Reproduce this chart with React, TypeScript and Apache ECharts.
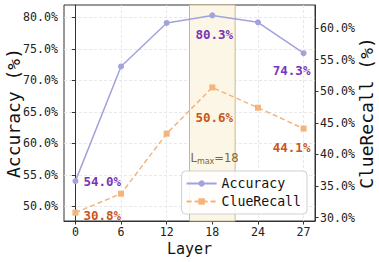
import React, { useEffect, useRef } from "react";
import * as echarts from "echarts";

const layers = ["0", "6", "12", "18", "24", "27"];
const accuracy = [54.0, 72.2, 79.1, 80.3, 79.2, 74.3];
const clueRecall = [30.8, 33.8, 43.3, 50.6, 47.4, 44.1];
const accTicks = [50, 55, 60, 65, 70, 75, 80];
const clueTicks = [30, 35, 40, 45, 50, 55, 60];
const lmaxIndex = 3;

const MONO = "'DejaVu Sans Mono', monospace";
const ACC_LINE = "#a2a2dc";
const CLUE_LINE = "#f4b47c";
const ACC_TXT = "#7a34b8";
const CLUE_TXT = "#c8561e";

const accLabels: Record<number, any> = {
  0: { position: "right", distance: 5, offset: [0, 0] },
  3: { position: "bottom", distance: 10, offset: [2, 0] },
  5: { position: "bottom", distance: 8, offset: [-12, 0] },
};
const clueLabels: Record<number, any> = {
  0: { position: "right", distance: 5, offset: [0, 3] },
  3: { position: "bottom", distance: 21, offset: [2, 0] },
  5: { position: "bottom", distance: 9, offset: [-12, 0] },
};

export default function App() {
  const ref = useRef<HTMLDivElement>(null);
  useEffect(() => {
    if (!ref.current) return;
    const chart = echarts.init(ref.current, null, { renderer: "svg" });
    const labelStyle = (color: string) => ({
      show: true,
      fontFamily: MONO,
      fontWeight: "bold",
      fontSize: 12.5,
      color,
      formatter: (p: any) => p.value[1].toFixed(1) + "%",
    });
    const accData = accuracy.map((v, i) => {
      const item: any = { value: [i, v] };
      if (accLabels[i]) item.label = { ...labelStyle(ACC_TXT), ...accLabels[i] };
      return item;
    });
    const clueData = clueRecall.map((v, i) => {
      const item: any = { value: [i, v] };
      if (clueLabels[i]) item.label = { ...labelStyle(CLUE_TXT), ...clueLabels[i] };
      return item;
    });
    const option: any = {
      animation: false,
      grid: {
        left: 64,
        right: 64,
        top: 5,
        bottom: 41,
        outerBoundsMode: "none",
        containLabel: false,
        show: true,
        borderColor: "#333",
        borderWidth: 1,
        backgroundColor: "transparent",
      },
      xAxis: {
        type: "value",
        min: -0.25,
        max: 5.25,
        name: "Layer",
        nameLocation: "middle",
        nameGap: 20,
        nameMoveOverlap: false,
        nameTextStyle: { fontFamily: MONO, fontSize: 15, color: "#111" },
        axisLine: { show: true, lineStyle: { color: "#333", width: 1 } },
        axisTick: {
          show: true,
          length: 3.5,
          customValues: layers.map((_, i) => i),
          lineStyle: { color: "#333" },
        },
        axisLabel: {
          customValues: layers.map((_, i) => i),
          formatter: (v: number) => layers[Math.round(v)] ?? "",
          fontFamily: MONO,
          fontSize: 11.6,
          color: "#222",
          margin: 5,
        },
        splitLine: { show: true, lineStyle: { color: "#e2e2e2", type: [3, 2], width: 0.8 } },
      },
      yAxis: [
        {
          type: "value",
          min: 47.67,
          max: 81.95,
          name: "Accuracy (%)",
          nameLocation: "middle",
          nameGap: 42,
          nameMoveOverlap: false,
          nameTextStyle: { fontFamily: MONO, fontSize: 18, color: "#111" },
          axisLine: { show: true, lineStyle: { color: "#333", width: 1 } },
          axisTick: { show: true, length: 3.5, customValues: accTicks, lineStyle: { color: "#333" } },
          axisLabel: {
            customValues: accTicks,
            formatter: (v: number) => v.toFixed(1) + "%",
            fontFamily: MONO,
            fontSize: 11.6,
            color: "#222",
            margin: 6,
          },
          splitLine: { show: true, lineStyle: { color: "#e2e2e2", type: [3, 2], width: 0.8 } },
        },
        {
          type: "value",
          min: 29.48,
          max: 63.64,
          name: "ClueRecall (%)",
          nameLocation: "middle",
          nameGap: 42,
          nameRotate: 90,
          nameMoveOverlap: false,
          nameTextStyle: { fontFamily: MONO, fontSize: 18, color: "#111" },
          axisLine: { show: true, lineStyle: { color: "#333", width: 1 } },
          axisTick: { show: true, length: 3.5, customValues: clueTicks, lineStyle: { color: "#333" } },
          axisLabel: {
            customValues: clueTicks,
            formatter: (v: number) => v.toFixed(1) + "%",
            fontFamily: MONO,
            fontSize: 11.6,
            color: "#222",
            margin: 5,
          },
          splitLine: { show: false },
        },
      ],
      legend: {
        orient: "vertical",
        right: 72,
        bottom: 48,
        itemWidth: 30,
        itemHeight: 8,
        itemGap: 5,
        padding: [6, 6, 6, 4],
        backgroundColor: "rgba(255,255,255,0.85)",
        borderColor: "#d0d0d0",
        borderWidth: 1,
        borderRadius: 4,
        textStyle: { fontFamily: MONO, fontSize: 13.2, color: "#111" },
        data: ["Accuracy", "ClueRecall"],
      },
      series: [
        {
          name: "Accuracy",
          type: "line",
          yAxisIndex: 0,
          data: accData,
          symbol: "circle",
          symbolSize: 6,
          lineStyle: { color: ACC_LINE, width: 1.5 },
          itemStyle: { color: ACC_LINE },
          z: 3,
          markArea: {
            silent: true,
            itemStyle: { color: "#fbf6e6", borderColor: "#c9b98c", borderWidth: 1 },
            data: [[{ xAxis: lmaxIndex - 0.5 }, { xAxis: lmaxIndex + 0.5 }]],
            z: 1,
          },
        },
        {
          name: "ClueRecall",
          type: "line",
          yAxisIndex: 1,
          data: clueData,
          symbol: "rect",
          symbolSize: 6,
          lineStyle: { color: CLUE_LINE, width: 1.5, type: [5, 3] },
          itemStyle: { color: CLUE_LINE },
          z: 3,
        },
      ],
    };
    chart.setOption(option);
    const p = chart.convertToPixel({ xAxisIndex: 0, yAxisIndex: 0 }, [lmaxIndex - 0.5, 57.6]);
    if (p) {
      chart.setOption({
        graphic: [
          {
            type: "text",
            x: p[0] + 1,
            y: p[1],
            z: 10,
            style: {
              text: "{l|L}{s|max}{l|=" + layers[lmaxIndex] + "}",
              verticalAlign: "middle",
              rich: {
                l: { fontFamily: "'DejaVu Sans', sans-serif", fontSize: 11.5, fill: "#7a6a35", color: "#7a6a35" },
                s: {
                  fontFamily: "'DejaVu Sans', sans-serif",
                  fontSize: 8,
                  fill: "#7a6a35",
                  color: "#7a6a35",
                  padding: [7, 0, 0, 0],
                },
              },
            },
          },
        ],
      });
    }
    return () => chart.dispose();
  }, []);
  return <div ref={ref} style={{ width: 379, height: 262, position: "absolute", left: 0, top: 0 }} />;
}
